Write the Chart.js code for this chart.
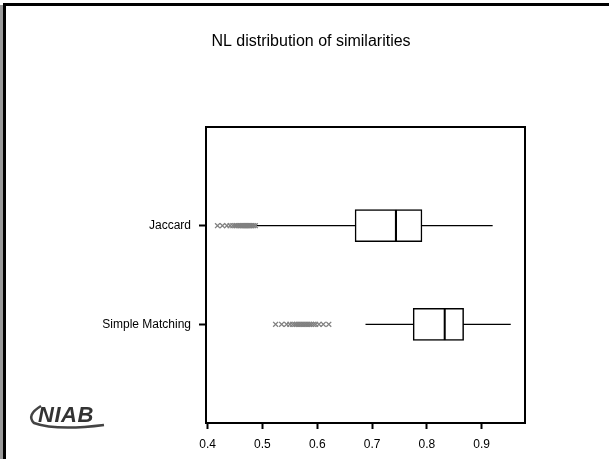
<!DOCTYPE html>
<html>
<head>
<meta charset="utf-8">
<script src="https://cdn.jsdelivr.net/npm/chart.js@4"></script>
<style>
  body { margin: 0; background: #fff; }
  #wrap { position: relative; width: 609px; height: 459px; overflow: hidden; }
  #frameTop { position: absolute; left: 3px; top: 3px; right: 0; height: 3px; background: #000; }
  #frameLeft { position: absolute; left: 3px; top: 3px; bottom: 0; width: 3px; background: #000; }
  #frameGrey { position: absolute; left: 0; top: 5px; bottom: 0; width: 3px; background: #9a9a9a; }
  #logo { position: absolute; left: 24px; top: 400px; width: 96px; height: 34px; }
  #logo span { position: absolute; left: 14px; top: 2px; font: italic bold 22px 'Liberation Sans', Arial, sans-serif; color: #333; letter-spacing: 0.5px; }
</style>
</head>
<body>
<div id="wrap">
  <canvas id="myChart" width="609" height="459"></canvas>
  <div id="frameGrey"></div>
  <div id="frameTop"></div>
  <div id="frameLeft"></div>
  <div id="logo">
    <svg width="96" height="34" style="position:absolute;left:0;top:0">
      <path d="M 17 6 Q 2 15 10 23 Q 32 31 80 25" fill="none" stroke="#444" stroke-width="2.5"/>
    </svg>
    <span>NIAB</span>
  </div>
</div>
<script>
const categories = ['Jaccard', 'Simple Matching'];
const whiskerLow = [0.489, 0.688];
const q1 = [0.669, 0.775];
const median = [0.745, 0.834];
const q3 = [0.791, 0.867];
const whiskerHigh = [0.920, 0.953];
const outliersJaccard = [0.418, 0.427, 0.435, 0.441, 0.446, 0.450, 0.453, 0.456, 0.459, 0.461, 0.463,
    0.465, 0.467, 0.469, 0.471, 0.473, 0.475, 0.477, 0.479, 0.481, 0.484, 0.487];
const outliersSimple = [0.524, 0.535, 0.544, 0.550, 0.555, 0.559, 0.562, 0.565, 0.568, 0.571, 0.574,
    0.577, 0.580, 0.583, 0.586, 0.589, 0.593, 0.597, 0.603, 0.611, 0.621];
const xTicks = [0.4, 0.5, 0.6, 0.7, 0.8, 0.9];

const fontFamily = "'Liberation Sans', Arial, sans-serif";

const frameBox = {
    id: 'frameBox',
    afterDraw(chart) {
        const a = chart.chartArea;
        const ctx = chart.ctx;
        ctx.save();
        ctx.strokeStyle = '#000';
        ctx.lineWidth = 2;
        ctx.strokeRect(a.left, a.top, a.right - a.left, a.bottom - a.top);
        ctx.restore();
    }
};

const datasets = [];

// box from q1 to q3
datasets.push({
    type: 'bar',
    data: categories.map((c, i) => ({ x: [q1[i], q3[i]], y: i + 1 })),
    backgroundColor: '#fff',
    borderColor: '#000',
    borderWidth: 1.5,
    borderSkipped: false,
    barThickness: 32,
    grouped: false,
    order: 1
});

// median: only the right edge of a bar from q1 to the median
datasets.push({
    type: 'bar',
    data: categories.map((c, i) => ({ x: [q1[i], median[i]], y: i + 1 })),
    backgroundColor: 'rgba(0,0,0,0)',
    borderColor: '#000',
    borderWidth: { left: 0, top: 0, bottom: 0, right: 1.5 },
    borderSkipped: false,
    barThickness: 32,
    grouped: false,
    order: 0
});

// whiskers
categories.forEach((c, i) => {
    datasets.push({
        type: 'line',
        data: [{ x: whiskerLow[i], y: i + 1 }, { x: whiskerHigh[i], y: i + 1 }],
        borderColor: '#000',
        borderWidth: 1.2,
        pointRadius: 0,
        order: 3
    });
});

// outliers
[outliersJaccard, outliersSimple].forEach((vals, i) => {
    datasets.push({
        type: 'line',
        showLine: false,
        data: vals.map(v => ({ x: v, y: i + 1 })),
        pointStyle: 'crossRot',
        pointRadius: 3.5,
        pointBorderColor: '#808080',
        pointBorderWidth: 1.3,
        order: 2
    });
});

new Chart(document.getElementById('myChart'), {
    type: 'bar',
    data: { datasets: datasets },
    plugins: [frameBox],
    options: {
        responsive: false,
        animation: false,
        indexAxis: 'y',
        layout: { padding: { left: 13, right: 0, top: 0, bottom: 0 } },
        plugins: {
            legend: { display: false },
            tooltip: { enabled: false },
            title: {
                display: true,
                text: 'NL distribution of similarities',
                color: '#000',
                font: { family: fontFamily, size: 16, weight: 'normal' },
                padding: { top: 32.4, bottom: 75.4 }
            }
        },
        scales: {
            x: {
                type: 'linear',
                min: 0.397,
                max: 0.979,
                afterBuildTicks: s => { s.ticks = xTicks.map(v => ({ value: v })); },
                afterFit: s => { s.height = 36; },
                grid: { drawOnChartArea: false, drawTicks: true, tickLength: 6, tickWidth: 2, tickColor: '#000' },
                border: { display: false },
                ticks: {
                    color: '#000',
                    padding: 8,
                    maxRotation: 0,
                    font: { family: fontFamily, size: 12 },
                    callback: v => v.toFixed(1)
                }
            },
            y: {
                type: 'linear',
                reverse: true,
                offset: false,
                min: 0,
                max: 3,
                afterBuildTicks: s => { s.ticks = categories.map((c, i) => ({ value: i + 1 })); },
                afterFit: s => { s.width = 193; },
                grid: { offset: false, drawOnChartArea: false, drawTicks: true, tickLength: 7, tickWidth: 2, tickColor: '#000' },
                border: { display: false },
                ticks: {
                    color: '#000',
                    padding: 8,
                    font: { family: fontFamily, size: 12 },
                    callback: (v, i) => categories[i]
                }
            },
            yRight: {
                type: 'linear',
                position: 'right',
                display: true,
                grid: { display: false },
                border: { display: false },
                ticks: { display: false },
                afterFit: s => { s.width = 84; }
            }
        }
    }
});
</script>
</body>
</html>
